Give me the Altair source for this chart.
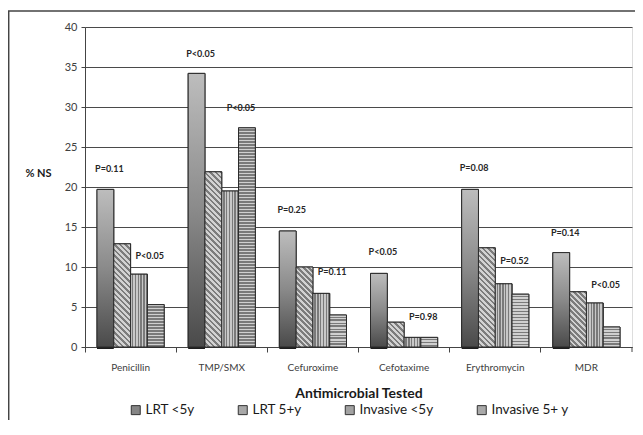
import altair as alt
import pandas as pd

categories = ["Penicillin", "TMP/SMX", "Cefuroxime", "Cefotaxime", "Erythromycin", "MDR"]
series_names = ["LRT <5y", "LRT 5+y", "Invasive <5y", "Invasive 5+ y"]
lrt_under5 = [19.7, 34.2, 14.5, 9.2, 19.7, 11.8]
lrt_5plus = [12.9, 21.9, 10.0, 3.1, 12.4, 6.9]
inv_under5 = [9.1, 19.5, 6.7, 1.2, 7.9, 5.5]
inv_5plus = [5.3, 27.4, 4.0, 1.2, 6.6, 2.5]

p_first = ["P=0.11", "P<0.05", "P=0.25", "P<0.05", "P=0.08", "P=0.14"]
p_first_y = [22.25, 36.6, 17.1, 11.9, 22.4, 14.25]
p_second = ["P<0.05", "P<0.05", "P=0.11", "P=0.98", "P=0.52", "P<0.05"]
p_second_y = [11.4, 29.9, 9.4, 3.75, 10.75, 7.75]

y_ticks = [0, 5, 10, 15, 20, 25, 30, 35, 40]

FONT = "Lato"
W, H = 547, 320
PX = H / 40.0
OUTER = 0.715
BAR_W = (W / 6) / (4 + 2 * OUTER)

values_by_series = [lrt_under5, lrt_5plus, inv_under5, inv_5plus]
rows = []
for s, vals in zip(series_names, values_by_series):
    for c, v in zip(categories, vals):
        rows.append({"cat": c, "series": s, "value": v})
bars = pd.DataFrame(rows)

labels = pd.DataFrame(
    [{"cat": c, "label": t, "ypos": y, "series": "LRT <5y"} for c, t, y in zip(categories, p_first, p_first_y)]
)
labels2 = pd.DataFrame(
    [{"cat": c, "label": t, "ypos": y, "series": "Invasive 5+ y"} for c, t, y in zip(categories, p_second, p_second_y)]
)


def r(x):
    return round(x, 4)


def stripes(total_px, period, light, dark):
    stops = []
    k = 0
    while k * period < total_px:
        a = k * period / total_px
        m = min((k * period + period / 2) / total_px, 1.0)
        b = min((k + 1) * period / total_px, 1.0)
        stops += [
            {"offset": r(a), "color": light},
            {"offset": r(m), "color": light},
        ]
        if m < 1.0:
            stops += [
                {"offset": r(m), "color": dark},
                {"offset": r(b), "color": dark},
            ]
        k += 1
    return stops


def grad_lrt_under5():
    return {"gradient": "linear", "x1": 0, "y1": 0, "x2": 0, "y2": 1,
            "stops": [{"offset": 0, "color": "#bdbdbd"},
                      {"offset": 0.5, "color": "#8a8a8a"},
                      {"offset": 1, "color": "#4a4a4a"}]}


def grad_diag(v):
    h = max(v * PX, 1.0)
    w = BAR_W
    c = (w + h) / (w * w + h * h)
    return {"gradient": "linear", "x1": 0, "y1": 1, "x2": r(w * c), "y2": r(1 - h * c),
            "stops": stripes(w + h, 5.5, "#d2d2d2", "#7c7c7c")}


def grad_vert():
    return {"gradient": "linear", "x1": 0, "y1": 0, "x2": 1, "y2": 0,
            "stops": stripes(BAR_W, BAR_W / 6, "#c8c8c8", "#7a7a7a")}


def grad_horiz(v):
    h = max(v * PX, 1.0)
    return {"gradient": "linear", "x1": 0, "y1": 0, "x2": 0, "y2": 1,
            "stops": stripes(h, 3.0, "#d0d0d0", "#7a7a7a")}


conds = []
for c, v1, v2, v3, v4 in zip(categories, lrt_under5, lrt_5plus, inv_under5, inv_5plus):
    conds.append({"test": f"datum.cat === '{c}' && datum.series === 'LRT <5y'", "value": grad_lrt_under5()})
    conds.append({"test": f"datum.cat === '{c}' && datum.series === 'LRT 5+y'", "value": grad_diag(v2)})
    conds.append({"test": f"datum.cat === '{c}' && datum.series === 'Invasive <5y'", "value": grad_vert()})
    conds.append({"test": f"datum.cat === '{c}' && datum.series === 'Invasive 5+ y'", "value": grad_horiz(v4)})

x_axis = alt.Axis(
    title="Antimicrobial Tested", titleFont=FONT, titleFontSize=14, titleFontWeight="bold",
    titleColor="#1a1a1a", titleY=46, titleBaseline="middle",
    labelFont=FONT, labelFontSize=10, labelColor="#404040", labelAngle=0, labelPadding=10,
    bandPosition=0, ticks=True, tickSize=5, tickColor="#444444", domainColor="#444444",
    grid=False,
)
y_axis = alt.Axis(
    title="% NS", titleFont=FONT, titleFontSize=11, titleFontWeight="bold", titleColor="#1a1a1a",
    titleAngle=0, titleAlign="center", titleBaseline="middle", titleX=-47, titleY=146,
    labelFont=FONT, labelFontSize=11, labelColor="#404040", labelPadding=4,
    values=y_ticks, tickSize=4, tickColor="#444444", domainColor="#444444",
    grid=True, gridColor="#4a4a4a", gridWidth=1,
)

x_enc = alt.X("cat:N", sort=categories, axis=x_axis,
              scale=alt.Scale(domain=categories, paddingInner=0, paddingOuter=0))
xo_enc = alt.XOffset("series:N", sort=series_names,
                     scale=alt.Scale(domain=series_names, paddingInner=0, paddingOuter=OUTER))


def y_enc(field):
    return alt.Y(f"{field}:Q", axis=y_axis, title="% NS", scale=alt.Scale(domain=[0, 40], nice=False))


base = alt.Chart(bars)

legend_layer = base.mark_bar(stroke="#2b2b2b", strokeWidth=1).encode(
    x=x_enc, xOffset=xo_enc, y=y_enc("value"),
    color=alt.Color(
        "series:N", sort=series_names,
        scale=alt.Scale(domain=series_names, range=["#858585", "#a8a8a8", "#a2a2a2", "#a9a9a9"]),
        legend=alt.Legend(
            title=None, orient="none", direction="horizontal", legendX=44, legendY=376,
            symbolType="square", symbolSize=81, symbolStrokeColor="#333333", symbolStrokeWidth=1,
            labelFont=FONT, labelFontSize=13.5, labelColor="#1a1a1a", labelOffset=3,
            columnPadding=41,
        ),
    ),
)

shadow_layer = base.transform_filter("datum.series === 'LRT <5y'").mark_bar(
    color="#1e1e1e", xOffset=2, yOffset=2
).encode(x=x_enc, xOffset=xo_enc, y=y_enc("value"))

pattern_layer = base.mark_bar(stroke="#2b2b2b", strokeWidth=1).encode(
    x=x_enc, xOffset=xo_enc, y=y_enc("value"),
    fill=alt.FillValue(value="#bbbbbb", condition=conds),
)

text1 = alt.Chart(labels).mark_text(
    font=FONT, fontSize=9, fontWeight="bold", color="#262626", dx=4, baseline="middle"
).encode(x=x_enc, xOffset=xo_enc, y=y_enc("ypos"), text="label:N")

text2 = alt.Chart(labels2).mark_text(
    font=FONT, fontSize=9, fontWeight="bold", color="#262626", dx=-6, baseline="middle"
).encode(x=x_enc, xOffset=xo_enc, y=y_enc("ypos"), text="label:N")

one = alt.Data(values=[{"k": 1}])
end_tick = alt.Chart(one).mark_rule(color="#444444", strokeWidth=1).encode(
    x=alt.value(W), y=alt.value(H), y2=alt.value(H + 5)
)
border = alt.Chart(one).mark_rect(fill=None, stroke="#444444", strokeWidth=1.5).encode(
    x=alt.value(-76.3), x2=alt.value(W + 60), y=alt.value(-16), y2=alt.value(H + 150)
)

chart = alt.layer(
    legend_layer, shadow_layer, pattern_layer, text1, text2, end_tick, border
).resolve_scale(fill="independent").properties(
    width=W, height=H,
    padding={"left": 77, "top": 19, "right": 3, "bottom": 73},
    autosize=alt.AutoSizeParams(type="none"),
).configure_view(stroke=None).configure(background="white")

chart.save("out.html", embed_options={"renderer": "svg", "actions": False})
